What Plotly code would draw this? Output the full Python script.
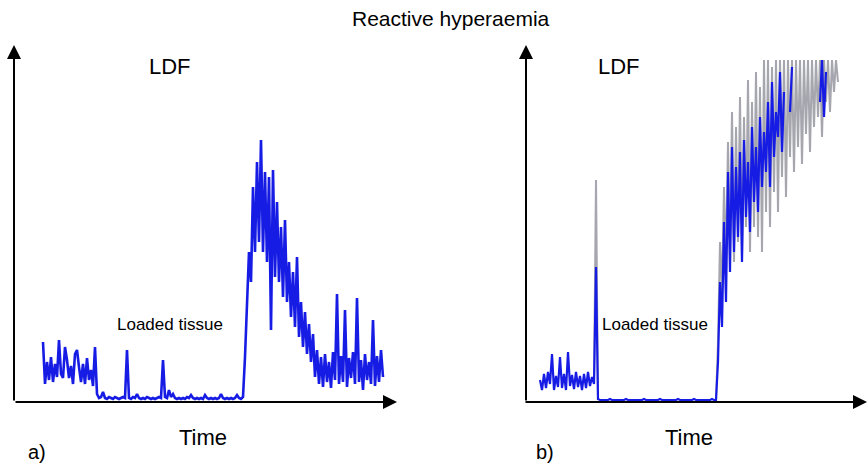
import plotly.graph_objects as go

# ---------------- data (LDF signal, arbitrary units; time in samples) -------------
# Panel a: LDF during baseline, loading, and reactive hyperaemia
ldf_a_baseline = [60, 18, 40, 22, 45, 20, 38, 25, 62, 28, 24, 55, 42, 24, 36, 18, 48, 52, 35, 20,
                  38, 18, 44, 22, 32, 16, 55]
ldf_a_loaded = [8, 4, 5, 10, 4, 3, 5, 4, 3, 5,
                4, 3, 4, 5, 4, 52, 4, 3, 5, 4,
                8, 4, 3, 4, 3, 5, 4, 3, 4, 3,
                4, 5, 4, 42, 5, 4, 12, 5, 8, 4,
                3, 4, 3, 4, 3, 5, 4, 7, 4, 3,
                4, 3, 4, 3, 7, 4, 3, 4, 3, 4,
                3, 4, 8, 4, 3, 4, 3, 4, 3, 4,
                7, 4, 3]
ldf_a_hyper = [5, 45, 90, 150, 120, 215, 150, 240, 160, 262,
               150, 230, 140, 225, 72, 232, 125, 200, 120, 175,
               105, 182, 100, 140, 85, 130, 75, 145, 65, 100,
               55, 90, 48, 78, 40, 68, 25, 52, 18, 45,
               15, 48, 20, 40, 14, 50, 22, 108, 18, 46,
               20, 92, 15, 44, 24, 50, 18, 104, 20, 42,
               12, 48, 22, 40, 18, 82, 16, 46, 20, 52,
               25]

# Panel b: baseline, loading (with spike at load onset), and hyperaemia to saturation
ldf_b_baseline = [22, 12, 28, 14, 30, 18, 48, 12, 26, 15, 45, 14, 28, 12, 50, 16, 27, 13, 30, 15,
                  26, 12, 28, 14, 30, 16, 25, 18]
ldf_b_onset = [135]
ldf_b_loaded = [3, 2, 2, 2, 2, 2, 3, 2, 2, 2,
                2, 2, 2, 2, 3, 2, 2, 2, 2, 2,
                2, 2, 2, 3, 2, 2, 2, 2, 2, 2,
                2, 3, 2, 2, 2, 2, 2, 2, 2, 2,
                3, 2, 2, 2, 2, 2, 2, 2, 3, 2,
                2, 2, 2, 2, 2, 2, 2, 3, 2, 2]
ldf_b_hyper = [40, 120, 75, 180, 100, 230, 130, 255, 150, 235,
               165, 250, 140, 262, 185, 240, 170, 275, 200, 255,
               190, 285, 215, 270, 230, 300, 215, 320, 245, 290,
               265, 330, 250, 310, None, None, 290, 335, None, None,
               None, None, None, None, None, None, None, None, None, None,
               None, 300, 342, 285, 330, None, None, None, None, None,
               None]
# faint grey excursions (saturated / overlapping record)
ldf_b_grey_onset = [18, 222, 2]
ldf_b_grey_hyper = [60, 160, 110, 215, 140, 260, 150, 290, 140, 275,
                    160, 305, 145, 285, 175, 322, 150, 300, 175, 330,
                    165, 315, 150, 342, 190, 342, 175, 335, 210, 342,
                    190, 342, 225, 342, 205, 342, 245, 342, 230, 342,
                    255, 342, 238, 342, 268, 342, 250, 342, 275, 342,
                    285, 342, 265, 342, 300, 342, 290, 342, 310, 342,
                    320]

ldf_a = ldf_a_baseline + ldf_a_loaded + ldf_a_hyper
ldf_b = ldf_b_baseline + ldf_b_onset + ldf_b_loaded + ldf_b_hyper
grey_b = ([None] * (len(ldf_b_baseline) - 1) + ldf_b_grey_onset
          + [None] * (len(ldf_b_loaded) - 2) + [2] + ldf_b_grey_hyper)

SAMPLE = 2
t_a = [SAMPLE * i for i in range(len(ldf_a))]
t_b = [SAMPLE * i for i in range(len(ldf_b))]

# ---------------- figure ----------------------------------------------------------
W, H = 867, 464
BLUE = "rgb(22,28,228)"
GREY = "rgba(128,128,140,0.7)"
FONT = "Arial, Liberation Sans, sans-serif"


def px(x):
    return x / W


def py(y):
    return 1 - y / H


fig = go.Figure()
fig.add_trace(go.Scatter(x=t_a, y=ldf_a, mode="lines", line=dict(color=BLUE, width=2.6),
                         xaxis="x", yaxis="y", hoverinfo="skip"))
fig.add_trace(go.Scatter(x=t_b, y=grey_b, mode="lines", line=dict(color=GREY, width=2),
                         xaxis="x2", yaxis="y2", hoverinfo="skip", connectgaps=False))
fig.add_trace(go.Scatter(x=t_b, y=ldf_b, mode="lines", line=dict(color=BLUE, width=2.2),
                         xaxis="x2", yaxis="y2", hoverinfo="skip", connectgaps=False))

axis_common = dict(showgrid=False, zeroline=False, showticklabels=False, showline=False,
                   ticks="", fixedrange=True)

# panel domains (pixels): a) x 14..397, b) x 526..867; y 45..402
fig.update_layout(
    width=W, height=H,
    margin=dict(l=0, r=0, t=0, b=0),
    paper_bgcolor="white", plot_bgcolor="white",
    showlegend=False,
    xaxis=dict(domain=[px(14), px(397)], range=[-29, 354], **axis_common),
    yaxis=dict(domain=[py(402), py(45)], range=[0, 357], **axis_common),
    xaxis2=dict(domain=[px(526), 1.0], range=[-14, 327], anchor="y2", **axis_common),
    yaxis2=dict(domain=[py(402), py(45)], range=[0, 357], anchor="x2", **axis_common),
)

ann = []
# axis arrows
for xd, yd in (("x domain", "y domain"), ("x2 domain", "y2 domain")):
    ann.append(dict(x=0, y=1, xref=xd, yref=yd, ax=0, ay=357, axref="pixel", ayref="pixel",
                    showarrow=True, arrowhead=2, arrowsize=1.4, arrowwidth=2,
                    arrowcolor="black", text="", standoff=0, startstandoff=0))
ann.append(dict(x=1, y=0, xref="x domain", yref="y domain", ax=-383, ay=0,
                showarrow=True, arrowhead=2, arrowsize=1.4, arrowwidth=2,
                arrowcolor="black", text="", standoff=0))
ann.append(dict(x=1, y=0, xref="x2 domain", yref="y2 domain", ax=-343, ay=0,
                showarrow=True, arrowhead=2, arrowsize=1.4, arrowwidth=2,
                arrowcolor="black", text="", standoff=0))


def label(text, x, y, size, yanchor="middle"):
    ann.append(dict(text=text, x=px(x), y=py(y), xref="paper", yref="paper",
                    xanchor="center", yanchor=yanchor, showarrow=False, borderpad=0,
                    font=dict(family=FONT, size=size, color="black")))


label("Reactive hyperaemia", 451, 19, 21)
label("LDF", 170, 66, 22)
label("LDF", 619, 66, 22)
label("Loaded tissue", 170, 324, 17)
label("Loaded tissue", 655, 324, 17)
label("Time", 203, 437, 22)
label("Time", 689, 437, 22)
label("a)", 37, 464, 20, yanchor="bottom")
label("b)", 545, 464, 20, yanchor="bottom")

fig.update_layout(annotations=ann)
fig.write_html("out.html", config={"displayModeBar": False},
               post_script="document.body.style.margin='0';document.body.style.padding='0';"
                           "document.body.style.overflow='hidden';")
